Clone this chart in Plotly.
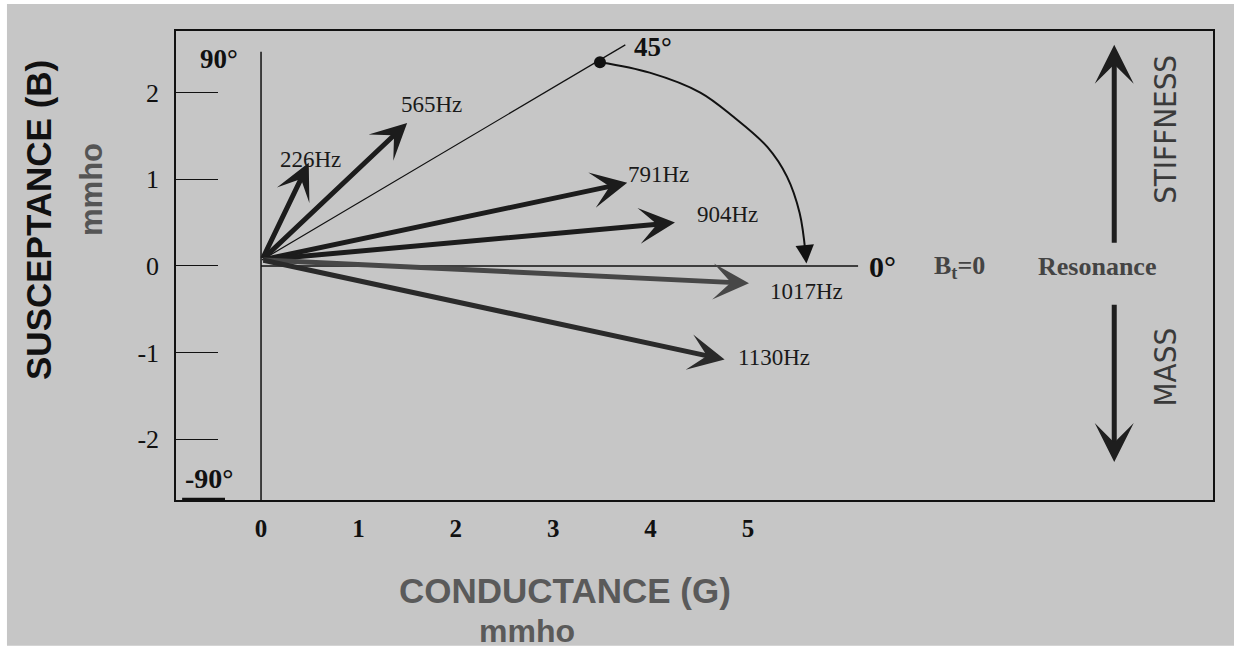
import plotly.graph_objects as go

# ---------------- data ----------------
freq_labels = ["226Hz", "565Hz", "791Hz", "904Hz", "1017Hz", "1130Hz"]
G_tip = [0.49, 1.50, 3.76, 4.25, 5.01, 4.76]          # conductance (mmho)
B_tip = [1.19, 1.65, 0.96, 0.50, -0.20, -1.08]        # susceptance (mmho)
label_G = [0.17, 1.42, 3.75, 4.46, 5.20, 4.88]
label_B = [1.23, 1.86, 1.05, 0.59, -0.29, -1.05]
vec_colors = ["#1c1c1c", "#1c1c1c", "#1c1c1c", "#1c1c1c", "#474747", "#2a2a2a"]
origin = (0.01, 0.07)

# 45 degree reference line and dot
ref45_G = [0.01, 3.74]
ref45_B = [0.07, 2.55]
dot_G = [3.48]
dot_B = [2.35]

# arc from 45 degree down to 0 degree
arc_G = [3.48, 3.99, 4.51, 4.85, 5.20, 5.40, 5.53, 5.59]
arc_B = [2.35, 2.23, 2.00, 1.72, 1.37, 1.03, 0.61, 0.15]
arc_tip = (5.60, 0.03)

x_ticks = [0, 1, 2, 3, 4, 5]
x_ticktext = ["0", "1", "2", "3", "4", "5"]
y_ticks = [-2, -1, 0, 1, 2]
y_ticktext = ["-2", "-1", "0", "1", "2"]

x_range = [-0.873, 9.774]
y_range = [-2.699, 2.710]

SERIF = "Liberation Serif, Times New Roman, serif"
SANS = "Liberation Sans, Arial, sans-serif"
NARROW = "Liberation Sans Narrow, DejaVu Sans Condensed, Arial Narrow, sans-serif"
BG = "#c6c6c6"

fig = go.Figure()

# 45 degree thin line
fig.add_trace(go.Scatter(x=ref45_G, y=ref45_B, mode="lines",
                         line=dict(color="#111", width=1.2), hoverinfo="skip"))
# arc
fig.add_trace(go.Scatter(x=arc_G, y=arc_B, mode="lines",
                         line=dict(color="#111", width=2, shape="spline"), hoverinfo="skip"))
# dot
fig.add_trace(go.Scatter(x=dot_G, y=dot_B, mode="markers",
                         marker=dict(color="#111", size=12), hoverinfo="skip"))

annotations = []
# arc arrow head
annotations.append(dict(x=arc_tip[0], y=arc_tip[1], ax=arc_G[-1], ay=arc_B[-1],
                        xref="x", yref="y", axref="x", ayref="y", text="",
                        showarrow=True, arrowhead=2, arrowsize=2.3, arrowwidth=1.6,
                        arrowcolor="#111"))

# frequency vectors
for g, b, c in zip(G_tip, B_tip, vec_colors):
    annotations.append(dict(x=g, y=b, ax=origin[0], ay=origin[1],
                            xref="x", yref="y", axref="x", ayref="y", text="",
                            showarrow=True, arrowhead=3, arrowsize=1.2, arrowwidth=5,
                            arrowcolor=c))
# frequency labels
for t, g, b in zip(freq_labels, label_G, label_B):
    annotations.append(dict(x=g, y=b, xref="x", yref="y", text=t, showarrow=False,
                            xanchor="left", yanchor="middle",
                            font=dict(family=SERIF, size=23, color="#1a1a1a")))

# stiffness / mass arrows
annotations.append(dict(x=8.76, y=2.55, ax=8.76, ay=0.25, xref="x", yref="y",
                        axref="x", ayref="y", text="", showarrow=True, arrowhead=3,
                        arrowsize=1.3, arrowwidth=5, arrowcolor="#1e1e1e"))
annotations.append(dict(x=8.76, y=-2.26, ax=8.76, ay=-0.43, xref="x", yref="y",
                        axref="x", ayref="y", text="", showarrow=True, arrowhead=3,
                        arrowsize=1.3, arrowwidth=5, arrowcolor="#1e1e1e"))


def txt(x, y, s, size, color="#111", family=SERIF, bold=True, xanchor="center", angle=0,
        xref="x", yref="y"):
    annotations.append(dict(x=x, y=y, xref=xref, yref=yref, text=s, showarrow=False,
                            xanchor=xanchor, yanchor="middle", textangle=angle,
                            borderpad=0,
                            font=dict(family=family, size=size, color=color,
                                      weight="bold" if bold else "normal")))


# angle labels and side texts
txt(-0.43, 2.39, "90°", 27)
txt(-0.53, -2.45, "-90°", 28)
txt(4.02, 2.53, "45°", 27)
txt(6.38, -0.01, "0°", 30)
txt(7.17, -0.01, "B<sub>t</sub>=0", 26, color="#444")
txt(8.58, -0.01, "Resonance", 26, color="#444")
txt(9.28, 1.58, "STIFFNESS", 31, color="#3a3a3a", family=NARROW, bold=False, angle=-90)
txt(9.28, -1.16, "MASS", 31, color="#3a3a3a", family=NARROW, bold=False, angle=-90)

# axis titles (paper coords relative to plot area)
txt(-0.1331, 0.597, "SUSCEPTANCE (B)", 35, color="#111", family=SANS, angle=-90,
    xref="paper", yref="paper")
txt(-0.081, 0.661, "mmho", 31, color="#555", family=SANS, angle=-90,
    xref="paper", yref="paper")
txt(0.375, -0.192, "CONDUCTANCE (G)", 35, color="#5a5a5a", family=SANS,
    xref="paper", yref="paper")
txt(0.338, -0.280, "mmho", 32, color="#5a5a5a", family=SANS,
    xref="paper", yref="paper")

shapes = [
    # gray page background
    dict(type="rect", xref="paper", yref="paper", x0=-0.163, x1=1.03, y0=-0.311, y1=1.0576,
         fillcolor=BG, line=dict(width=0), layer="below"),
    # vertical B axis at G=0
    dict(type="line", xref="x", yref="y", x0=0, x1=0, y0=2.47, y1=y_range[0],
         line=dict(color="#111", width=1.5)),
    # horizontal G axis at B=0
    dict(type="line", xref="x", yref="y", x0=0, x1=6.13, y0=0, y1=0,
         line=dict(color="#111", width=1.5)),
    # thick mark under -90
    dict(type="line", xref="x", yref="y", x0=-0.81, x1=-0.37, y0=y_range[0] + 0.01,
         y1=y_range[0] + 0.01, line=dict(color="#111", width=3)),
]

fig.update_layout(
    width=1234, height=651,
    margin=dict(l=176, r=21, t=31, b=151),
    paper_bgcolor="white",
    plot_bgcolor=BG,
    showlegend=False,
    annotations=annotations,
    shapes=shapes,
    xaxis=dict(range=x_range, tickvals=x_ticks, ticktext=x_ticktext, showgrid=False,
               zeroline=False, showline=True, mirror=True, linecolor="#111", linewidth=1.5,
               ticks="", ticklabelstandoff=5,
               tickfont=dict(family=SERIF, size=25, color="#111", weight="bold")),
    yaxis=dict(range=y_range, tickvals=y_ticks, ticktext=y_ticktext, showgrid=False,
               zeroline=False, showline=True, mirror=True, linecolor="#111", linewidth=1.5,
               ticks="inside", ticklen=42, tickwidth=1, tickcolor="#111",
               ticklabelstandoff=10,
               tickfont=dict(family=SERIF, size=26, color="#111")),
)

fig.write_html("out.html")
